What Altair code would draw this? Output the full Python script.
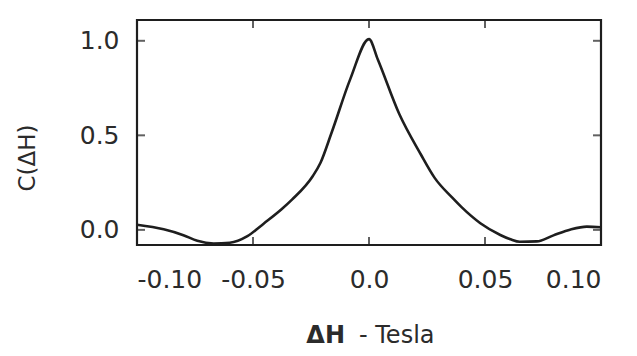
import altair as alt
import pandas as pd

# Curve (rotation of the scan corrected)
dh_values = [-0.100, -0.0885, -0.080, -0.074, -0.067, -0.060, -0.0524, -0.0453,
             -0.0377, -0.0332, -0.0242, -0.0209, -0.0161, -0.008, 0.0, 0.0038,
             0.013, 0.0223, 0.0283, 0.0359, 0.0399, 0.048, 0.0566, 0.061,
             0.065, 0.0723, 0.0795, 0.0869, 0.0939, 0.100]
c_values = [0.027, 0.003, -0.028, -0.058, -0.072, -0.068, -0.033, 0.034,
            0.109, 0.160, 0.285, 0.355, 0.515, 0.800, 1.009, 0.901,
            0.614, 0.400, 0.275, 0.170, 0.120, 0.035, -0.027, -0.050,
            -0.063, -0.061, -0.029, 0.002, 0.017, 0.014]

x_ticks = [-0.10, -0.05, 0.0, 0.05, 0.10]
y_ticks = [0.0, 0.5, 1.0]

W, H = 464, 225
FONT = "DejaVu Sans"
INK = "#2b2b2b"

curve = pd.DataFrame({"dh": dh_values, "c": c_values})
xt = pd.DataFrame({"t": x_ticks})
yt = pd.DataFrame({"t": y_ticks})

xscale = alt.Scale(domain=[-0.10, 0.10], nice=False, zero=False)
yscale = alt.Scale(domain=[-0.08, 1.11], nice=False, zero=False)

x_label_expr = ("datum.value == 0 ? '0.0' : (datum.value < 0 ? '-' + format(abs(datum.value), '.2f') "
                ": format(datum.value, '.2f'))")

line = alt.Chart(curve).mark_line(
    color="#1e1e1e", strokeWidth=2.6, interpolate="monotone"
).encode(
    x=alt.X("dh:Q", scale=xscale,
            axis=alt.Axis(values=x_ticks, labelExpr=x_label_expr, title=None,
                          ticks=False, domain=False, grid=False,
                          labelFont=FONT, labelFontSize=25, labelColor=INK,
                          labelPadding=22)),
    y=alt.Y("c:Q", scale=yscale,
            axis=alt.Axis(values=y_ticks, format=".1f", title=None,
                          ticks=False, domain=False, grid=False,
                          labelFont=FONT, labelFontSize=25, labelColor=INK,
                          labelPadding=18)),
)

tick_style = dict(color="#1e1e1e", thickness=2)
bottom_ticks = alt.Chart(xt).mark_tick(orient="vertical", size=8, **tick_style).encode(
    x=alt.X("t:Q", scale=xscale), y=alt.value(H - 4))
top_ticks = alt.Chart(xt).mark_tick(orient="vertical", size=8, **tick_style).encode(
    x=alt.X("t:Q", scale=xscale), y=alt.value(4))
left_ticks = alt.Chart(yt).mark_tick(orient="horizontal", size=8, **tick_style).encode(
    y=alt.Y("t:Q", scale=yscale), x=alt.value(4))
right_ticks = alt.Chart(yt).mark_tick(orient="horizontal", size=8, **tick_style).encode(
    y=alt.Y("t:Q", scale=yscale), x=alt.value(W - 4))

xtitle_bold = alt.Chart(pd.DataFrame({"s": ["ΔH"]})).mark_text(
    font=FONT, fontSize=24, fontWeight="bold", color=INK, align="right", baseline="middle"
).encode(text="s:N", x=alt.value(208), y=alt.value(316))
xtitle_rest = alt.Chart(pd.DataFrame({"s": ["- Tesla"]})).mark_text(
    font=FONT, fontSize=24, color=INK, align="left", baseline="middle"
).encode(text="s:N", x=alt.value(222), y=alt.value(316))
ytitle = alt.Chart(pd.DataFrame({"s": ["C(ΔH)"]})).mark_text(
    font=FONT, fontSize=23, color=INK, align="center", baseline="middle", angle=270
).encode(text="s:N", x=alt.value(-109), y=alt.value(138))

chart = alt.layer(
    line, bottom_ticks, top_ticks, left_ticks, right_ticks,
    xtitle_bold, xtitle_rest, ytitle
).properties(
    width=W, height=H,
    autosize=alt.AutoSizeParams(type="none"),
    padding={"left": 129, "top": 12, "right": 20, "bottom": 110},
    background="white",
).configure_view(
    stroke="#1e1e1e", strokeWidth=2.2
)

chart.save("out.html", embed_options={"renderer": "svg", "actions": False})
